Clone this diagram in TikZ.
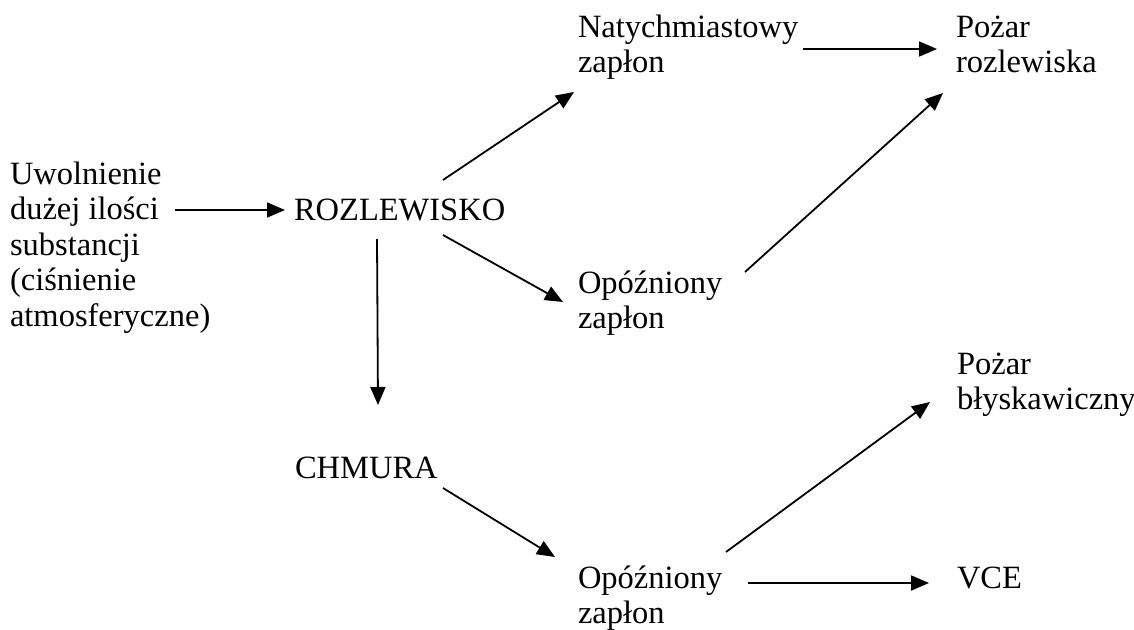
\documentclass[tikz,border=0pt]{standalone}
\usepackage{fontspec}
\setmainfont{Liberation Serif}
\usetikzlibrary{arrows.meta}
\begin{document}
\begin{tikzpicture}[x=1pt,y=-1pt,
  lbl/.style={inner sep=0pt, outer sep=0pt, anchor=base west, align=left,
    font=\fontsize{32.5}{35.5}\selectfont},
  arr/.style={line width=1.8pt, -{Triangle[length=18pt,width=15pt]}}]
\useasboundingbox (0,0) rectangle (1134,629);
\node[lbl] (src) at (10,326) {Uwolnienie\\dużej ilości\\substancji\\(ciśnienie\\atmosferyczne)};
\node[lbl] (rozl) at (294,220) {ROZLEWISKO};
\node[lbl] (naty) at (578,72.5) {Natychmiastowy\\zapłon};
\node[lbl] (poz1) at (956,72.5) {Pożar\\rozlewiska};
\node[lbl] (opo1) at (578,328.5) {Opóźniony\\zapłon};
\node[lbl] (chm) at (295,478) {CHMURA};
\node[lbl] (poz2) at (957,409.5) {Pożar\\błyskawiczny};
\node[lbl] (opo2) at (578,623.5) {Opóźniony\\zapłon};
\node[lbl] (vce) at (957,588) {VCE};
\draw[arr] ([shift={(165,-116)}]src.base west) -- ([shift={(-9,-10)}]rozl.base west);
\draw[arr] ([shift={(149,-40)}]rozl.base west) -- ([shift={(-4,19.5)}]naty.base west);
\draw[arr] ([shift={(225,-23.5)}]naty.base west) -- ([shift={(-19,-23.5)}]poz1.base west);
\draw[arr] ([shift={(149,15)}]rozl.base west) -- ([shift={(-15,-26.5)}]opo1.base west);
\draw[arr] ([shift={(167,-56.5)}]opo1.base west) -- ([shift={(-13,20.5)}]poz1.base west);
\draw[arr] ([shift={(83,19)}]rozl.base west) -- ([shift={(83,-73)}]chm.base west);
\draw[arr] ([shift={(148,10)}]chm.base west) -- ([shift={(-23,-66.5)}]opo2.base west);
\draw[arr] ([shift={(148,-71.5)}]opo2.base west) -- ([shift={(-27,-7.5)}]poz2.base west);
\draw[arr] ([shift={(170,-40.5)}]opo2.base west) -- ([shift={(-28,-5)}]vce.base west);
\end{tikzpicture}
\end{document}
